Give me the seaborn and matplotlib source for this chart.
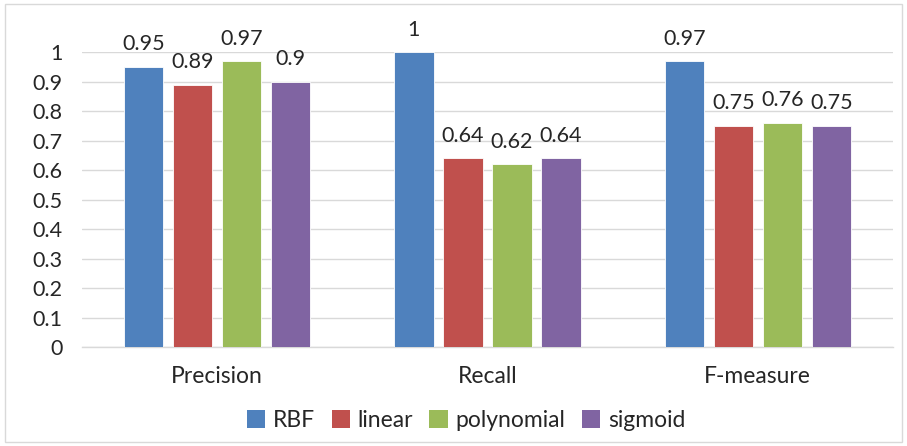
import matplotlib
matplotlib.use("Agg")
import matplotlib.pyplot as plt
import seaborn as sns
import pandas as pd
from matplotlib.patches import Rectangle

categories = ["Precision", "Recall", "F-measure"]
kernels = ["RBF", "linear", "polynomial", "sigmoid"]
rbf = [0.95, 1.00, 0.97]
linear = [0.89, 0.64, 0.75]
polynomial = [0.97, 0.62, 0.76]
sigmoid = [0.90, 0.64, 0.75]
labels_text = {
    "RBF": ["0.95", "1", "0.97"],
    "linear": ["0.89", "0.64", "0.75"],
    "polynomial": ["0.97", "0.62", "0.76"],
    "sigmoid": ["0.9", "0.64", "0.75"],
}
yticks = [0, 0.1, 0.2, 0.3, 0.4, 0.5, 0.6, 0.7, 0.8, 0.9, 1]
ytick_labels = ["0", "0.1", "0.2", "0.3", "0.4", "0.5", "0.6", "0.7", "0.8", "0.9", "1"]
colors = ["#4F81BD", "#C0504D", "#9BBB59", "#8064A2"]

rows = []
for k, vals in zip(kernels, [rbf, linear, polynomial, sigmoid]):
    for c, v in zip(categories, vals):
        rows.append({"metric": c, "kernel": k, "value": v})
df = pd.DataFrame(rows)

sns.set_theme(style="white")
plt.rcParams["font.family"] = ["Lato", "DejaVu Sans"]

FS = 15.5
FS_TXT = 16.5
fig = plt.figure(figsize=(9.07, 4.46), dpi=100)
ax = fig.add_axes([0.0904, 0.222, 0.894, 0.661])
sns.barplot(data=df, x="metric", y="value", hue="kernel", order=categories,
            hue_order=kernels, palette=colors, saturation=1, width=0.725, gap=0.2,
            ax=ax, legend=False, edgecolor="white", linewidth=0.6, zorder=3)

ax.set_ylim(0, 1)
ax.set_xlim(-0.5, 2.5)
ax.set_yticks(yticks)
ax.set_yticklabels(ytick_labels)
ax.set_xlabel("")
ax.set_ylabel("")
ax.grid(axis="y", color="#D9D9D9", linewidth=1, zorder=0)
ax.set_axisbelow(True)
for s in ["top", "right", "left"]:
    ax.spines[s].set_visible(False)
ax.spines["bottom"].set_color("#D9D9D9")
ax.spines["bottom"].set_linewidth(1)
ax.tick_params(axis="y", length=0, labelsize=FS, colors="#262626", pad=14)
ax.tick_params(axis="x", length=0, labelsize=FS_TXT, colors="#262626", pad=14)

for container, k in zip(ax.containers, kernels):
    ax.bar_label(container, labels=labels_text[k], padding=9, fontsize=FS,
                 color="#262626", clip_on=False)

handles = [Rectangle((0, 0), 1, 1, facecolor=c, edgecolor="none") for c in colors]
fig.legend(handles, kernels, loc="center", bbox_to_anchor=(0.514, 0.057), ncol=4,
           frameon=False, fontsize=FS_TXT, handlelength=0.8, handleheight=0.8,
           handletextpad=0.35, columnspacing=0.7)

fig.patches.append(Rectangle((0.005, 0.008), 0.99, 0.984, transform=fig.transFigure,
                             fill=False, edgecolor="#D9D9D9", linewidth=1))

fig.savefig("out.png", dpi=100)
